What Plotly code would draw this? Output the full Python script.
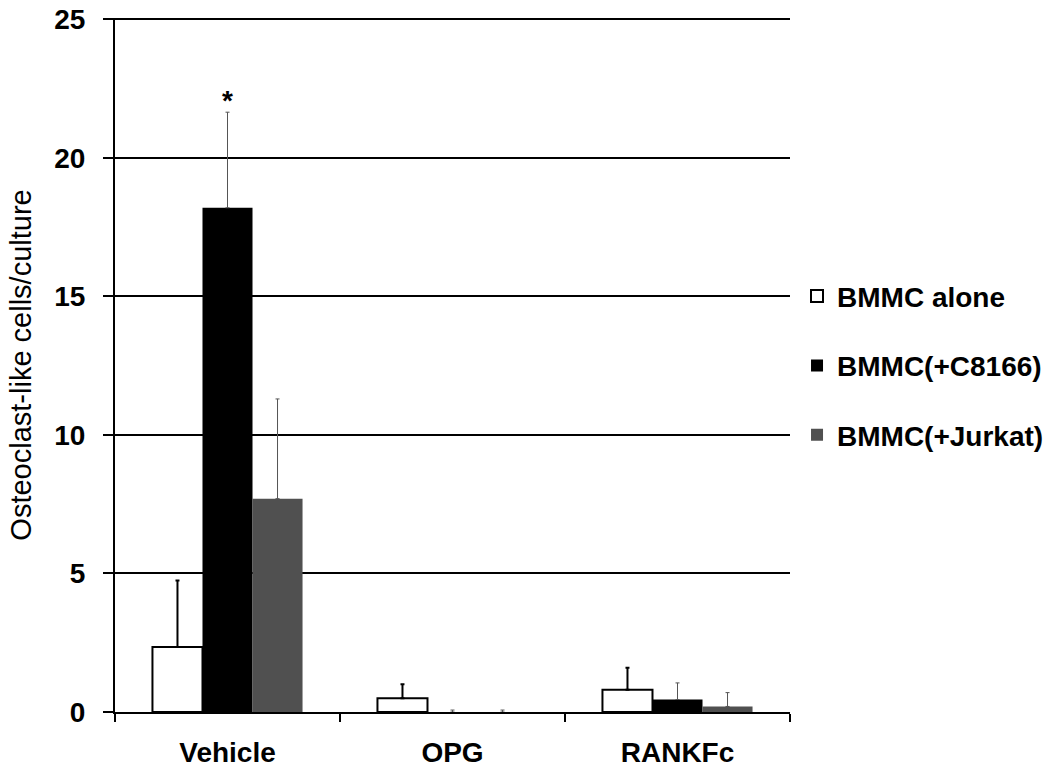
import plotly.graph_objects as go

categories = ["Vehicle", "OPG", "RANKFc"]
series_names = ["BMMC alone", "BMMC(+C8166)", "BMMC(+Jurkat)"]
alone_vals = [2.35, 0.5, 0.8]
alone_err = [2.4, 0.5, 0.8]
c8166_vals = [18.2, 0.0, 0.45]
c8166_err = [3.45, 0.07, 0.6]
jurkat_vals = [7.7, 0.0, 0.2]
jurkat_err = [3.6, 0.07, 0.5]
y_ticks = [0, 5, 10, 15, 20, 25]

FONT = "Liberation Sans, Arial, sans-serif"

fig = go.Figure()
specs = [
    (series_names[0], alone_vals, alone_err, "#ffffff", "#000000", 2, "#000000", 2),
    (series_names[1], c8166_vals, c8166_err, "#000000", "#000000", 0, "#555555", 1),
    (series_names[2], jurkat_vals, jurkat_err, "#505050", "#505050", 0, "#555555", 1),
]
for name, vals, err, fill, line_c, line_w, err_c, err_w in specs:
    fig.add_trace(go.Bar(
        name=name, x=categories, y=vals, legendgroup=name,
        marker=dict(color=fill, line=dict(color=line_c, width=line_w)),
        error_y=dict(type="data", array=err, arrayminus=[0] * len(err), symmetric=False,
                     color=err_c, thickness=err_w, width=2),
    ))

fig.add_annotation(x="Vehicle", y=21.45, text="<b>*</b>", showarrow=False,
                   yanchor="bottom", font=dict(family=FONT, size=28, color="#000"))

fig.update_layout(
    width=1050, height=773,
    paper_bgcolor="white", plot_bgcolor="white",
    margin=dict(l=115, r=260, t=18, b=61, autoexpand=False),
    barmode="group", bargap=0.333, bargroupgap=0,
    font=dict(family=FONT, color="#000"),
    showlegend=True,
    legend=dict(x=1.0104, y=0.635, xanchor="left", yanchor="top",
                font=dict(family=FONT, size=28, color="#000", weight="bold"),
                tracegroupgap=30, bgcolor="rgba(0,0,0,0)"),
    xaxis=dict(showline=True, linecolor="#000", linewidth=2, ticks="outside",
               tickson="boundaries", ticklen=8, tickwidth=2, tickcolor="#000",
               ticklabelstandoff=14, automargin=False,
               tickfont=dict(family=FONT, size=28, color="#000", weight="bold"),
               showgrid=False),
    yaxis=dict(range=[0, 25.05], tickvals=y_ticks, showline=True, linecolor="#000", linewidth=2,
               ticks="outside", ticklen=10, tickwidth=2, tickcolor="#000",
               ticklabelstandoff=12, automargin=False,
               showgrid=True, gridcolor="#000", gridwidth=2, zeroline=False,
               tickfont=dict(family=FONT, size=28, color="#000", weight="bold"),
               title=dict(text="Osteoclast-like cells/culture", standoff=14,
                          font=dict(family=FONT, size=29, color="#000"))),
)

fig.write_html("out.html", config={"displayModeBar": False},
               post_script="document.body.style.margin='0';document.body.style.padding='0';")
